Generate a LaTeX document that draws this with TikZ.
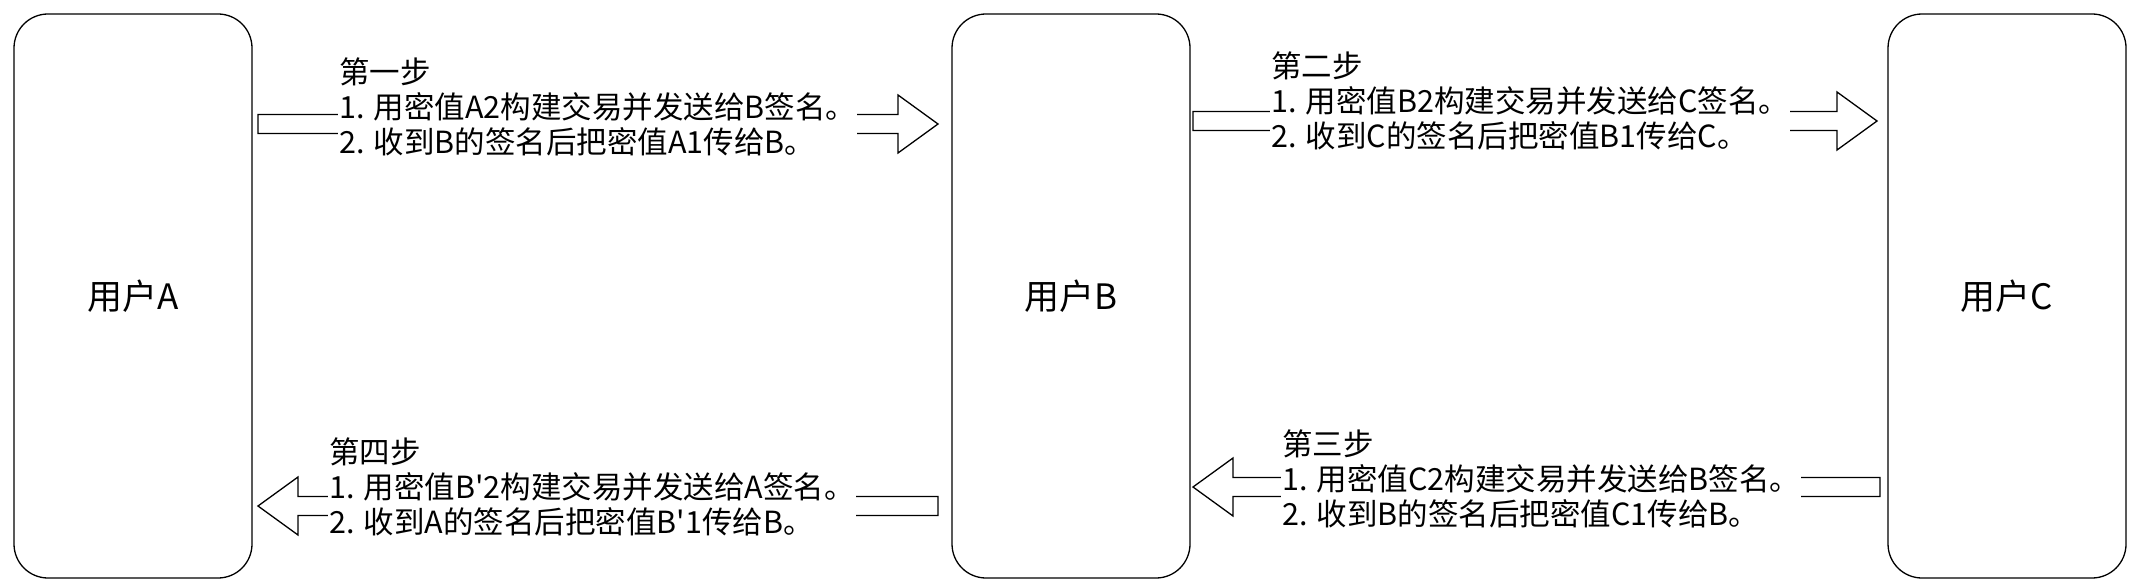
\documentclass[tikz,border=0pt]{standalone}
\usepackage{fontspec}
\setmainfont{Noto Sans CJK SC}
\begin{document}
\begin{tikzpicture}[x=1pt,y=-1pt,
  user/.style={draw,line width=1.3pt,rounded corners=34pt,minimum width=238pt,minimum height=564pt,font=\fontsize{35}{40}\selectfont},
  txt/.style={fill=white,inner sep=1pt,align=left,anchor=north west,font=\fontsize{30.5}{35}\selectfont},
  arr/.style={draw,line width=1.3pt,fill=white}]
\useasboundingbox (0,0) rectangle (2132,580);
\node[user] (A) at (133,296) {用户A};
\node[user] (B) at (1071,296) {用户B};
\node[user] (C) at (2007,296) {用户C};
\newcommand{\rarr}[3]{\draw[arr] (#1,#3-9.5) -- (#2-40,#3-9.5) -- (#2-40,#3-29) -- (#2,#3) -- (#2-40,#3+29) -- (#2-40,#3+9.5) -- (#1,#3+9.5) -- cycle;}
\newcommand{\larr}[3]{\draw[arr] (#1,#3-9.5) -- (#2+40,#3-9.5) -- (#2+40,#3-29) -- (#2,#3) -- (#2+40,#3+29) -- (#2+40,#3+9.5) -- (#1,#3+9.5) -- cycle;}
\rarr{258}{938}{124}
\rarr{1193}{1877}{121}
\larr{1880}{1193}{487}
\larr{938}{258}{506}
\node[txt] (t1) at (338,57) {第一步\\1. 用密值A2构建交易并发送给B签名。\\2. 收到B的签名后把密值A1传给B。};
\node[txt] (t2) at (1270,51) {第二步\\1. 用密值B2构建交易并发送给C签名。\\2. 收到C的签名后把密值B1传给C。};
\node[txt] (t3) at (1281,429) {第三步\\1. 用密值C2构建交易并发送给B签名。\\2. 收到B的签名后把密值C1传给B。};
\node[txt] (t4) at (328,437) {第四步\\1. 用密值B\textquotesingle 2构建交易并发送给A签名。\\2. 收到A的签名后把密值B\textquotesingle 1传给B。};
\end{tikzpicture}
\end{document}
